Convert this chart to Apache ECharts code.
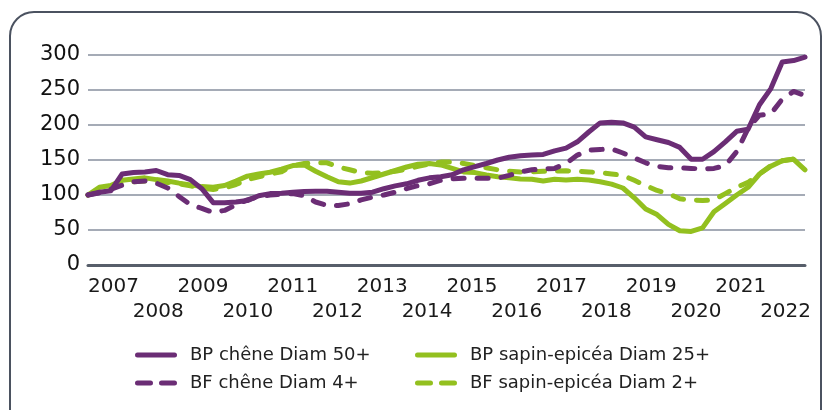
<!DOCTYPE html>
<html>
<head>
<meta charset="utf-8">
<script src="https://cdn.jsdelivr.net/npm/echarts@6/dist/echarts.min.js"></script>
<style>
  html, body { margin: 0; padding: 0; background: #fff; }
  #chart { width: 823px; height: 410px; }
</style>
</head>
<body>
<div id="chart"></div>
<script>
// années affichées sur l'axe
var years = ["2007", "2008", "2009", "2010", "2011", "2012", "2013", "2014",
  "2015", "2016", "2017", "2018", "2019", "2020", "2021", "2022"];

// indices trimestriels (base 100)
var bpChene = [100, 104, 106, 130, 132, 133, 135, 129, 128, 122, 109, 89, 89, 90, 92, 99,
  102, 102.5, 104, 105, 105.5, 105.5, 104, 102.5, 102.5, 104, 109, 113, 116, 121, 124.5, 126,
  129, 136, 140.5, 145, 150, 154, 156, 157, 158, 163, 167, 176, 190, 203, 204, 203,
  197, 183, 179, 175, 168, 151, 151, 162, 176, 191, 194, 229, 252, 290, 292, 297];
var bfChene = [100, 103, 108, 114, 119, 120, 117, 110, 98, 86, 81, 75, 78, 86, 93, 98,
  100, 101, 102, 99, 90, 85, 85, 87.5, 93, 97, 100, 104, 109, 113.5, 116, 121,
  123, 124, 124, 124, 124, 128, 133, 136, 137, 138, 145, 157, 164, 165, 166, 160,
  153, 146, 141, 139, 139, 138, 137, 138, 142, 162, 195, 214, 216, 237, 248, 242];
var bpSapin = [100, 111, 113.5, 121, 123, 124.5, 122, 120, 117, 114.5, 112, 111, 113.5, 120, 127, 130,
  132.5, 137, 142, 143, 134, 126, 119, 117, 120, 125, 130, 135, 140, 144, 145, 143,
  138, 133, 132, 128.5, 126, 124.5, 123, 122.5, 120, 122.5, 121.5, 122.5, 121.5, 119, 115.5, 110,
  96, 80, 72, 58, 49, 48, 53, 76, 88, 100, 111, 130, 141, 149, 151, 136];
var bfSapin = [100, 108, 112, 117, 119, 120, 119, 118, 116, 113, 110, 108, 110, 115, 122, 126,
  130, 133, 142, 145, 146, 146, 140, 136, 132, 131, 132, 134, 137, 141, 144, 147,
  147, 145, 142, 139, 136, 134, 133, 133, 134, 134, 134.5, 134, 133, 132, 130, 128,
  121, 113.5, 106.5, 102, 94.5, 93, 92, 93, 102, 111, 118, 130, 142, 149, 151.5, 151.5];

var quarters = [];
years.forEach(function (y) {
  for (var q = 1; q <= 4; q++) quarters.push(y + " T" + q);
});

var violet = "#6b2d75";
var vert = "#93c01f";
var dash = [11, 13];

// pictos de légende : trait plein / deux tirets arrondis
var iconPlein = "path://M2.5,0H39.5A2.5,2.5,0,0,1,39.5,5H2.5A2.5,2.5,0,0,1,2.5,0Z";
var iconTirets = "path://M2.5,0H15.5A2.5,2.5,0,0,1,15.5,5H2.5A2.5,2.5,0,0,1,2.5,0Z" +
  "M26.5,0H39.5A2.5,2.5,0,0,1,39.5,5H26.5A2.5,2.5,0,0,1,26.5,0Z";

var chart = echarts.init(document.getElementById("chart"));

function serie(name, data, color, dashed, z) {
  return {
    name: name,
    type: "line",
    data: data,
    symbol: "none",
    z: z,
    lineStyle: {
      color: color,
      width: 5,
      type: dashed ? dash : "solid",
      cap: "round",
      join: "round",
    },
    itemStyle: { color: color },
  };
}

var legendTxt = {
  fontFamily: "DejaVu Sans",
  fontSize: 18,
  color: "#222",
  padding: [0, 0, 0, 8],
};

function legende(left, noms) {
  return {
    orient: "vertical",
    left: left,
    top: 341,
    itemWidth: 42,
    itemHeight: 5,
    itemGap: 10,
    textStyle: legendTxt,
    data: [
      { name: noms[0], icon: iconPlein },
      { name: noms[1], icon: iconTirets },
    ],
  };
}

option = {
  animation: false,
  graphic: [
    {
      type: "rect",
      shape: { x: 10, y: 12, width: 811, height: 440, r: 24 },
      style: { fill: "none", stroke: "#4b5260", lineWidth: 2 },
      silent: true,
    },
  ],
  grid: { left: 88, right: 18, top: 55, bottom: 145 },
  legend: [
    legende(130, ["BP chêne Diam 50+", "BF chêne Diam 4+"]),
    legende(410, ["BP sapin-epicéa Diam 25+", "BF sapin-epicéa Diam 2+"]),
  ],
  xAxis: [
    {
      type: "category",
      data: quarters,
      boundaryGap: false,
      axisLine: { lineStyle: { color: "#575e6a", width: 3 } },
      axisTick: { show: false },
      axisLabel: { show: false },
      splitLine: { show: false },
    },
    {
      type: "category",
      data: years,
      position: "bottom",
      boundaryGap: true,
      axisLine: { show: false },
      axisTick: { show: false },
      splitLine: { show: false },
      axisLabel: {
        interval: 0,
        margin: 9,
        padding: [0, 0, 0, 6],
        fontFamily: "DejaVu Sans",
        fontSize: 20,
        lineHeight: 25,
        color: "#1a1a1a",
        formatter: function (v, i) {
          return i % 2 === 0 ? v : "\n" + v;
        },
      },
    },
  ],
  yAxis: {
    type: "value",
    min: 0,
    max: 300,
    interval: 50,
    axisLine: { show: false },
    axisTick: { show: false },
    axisLabel: {
      margin: 8,
      fontFamily: "DejaVu Sans",
      fontSize: 21,
      color: "#111",
    },
    splitLine: { lineStyle: { color: "#a5abb6", width: 2 } },
  },
  series: [
    serie("BF sapin-epicéa Diam 2+", bfSapin, vert, true, 2),
    serie("BP sapin-epicéa Diam 25+", bpSapin, vert, false, 3),
    serie("BF chêne Diam 4+", bfChene, violet, true, 4),
    serie("BP chêne Diam 50+", bpChene, violet, false, 5),
  ],
};

chart.setOption(option);
</script>
</body>
</html>
